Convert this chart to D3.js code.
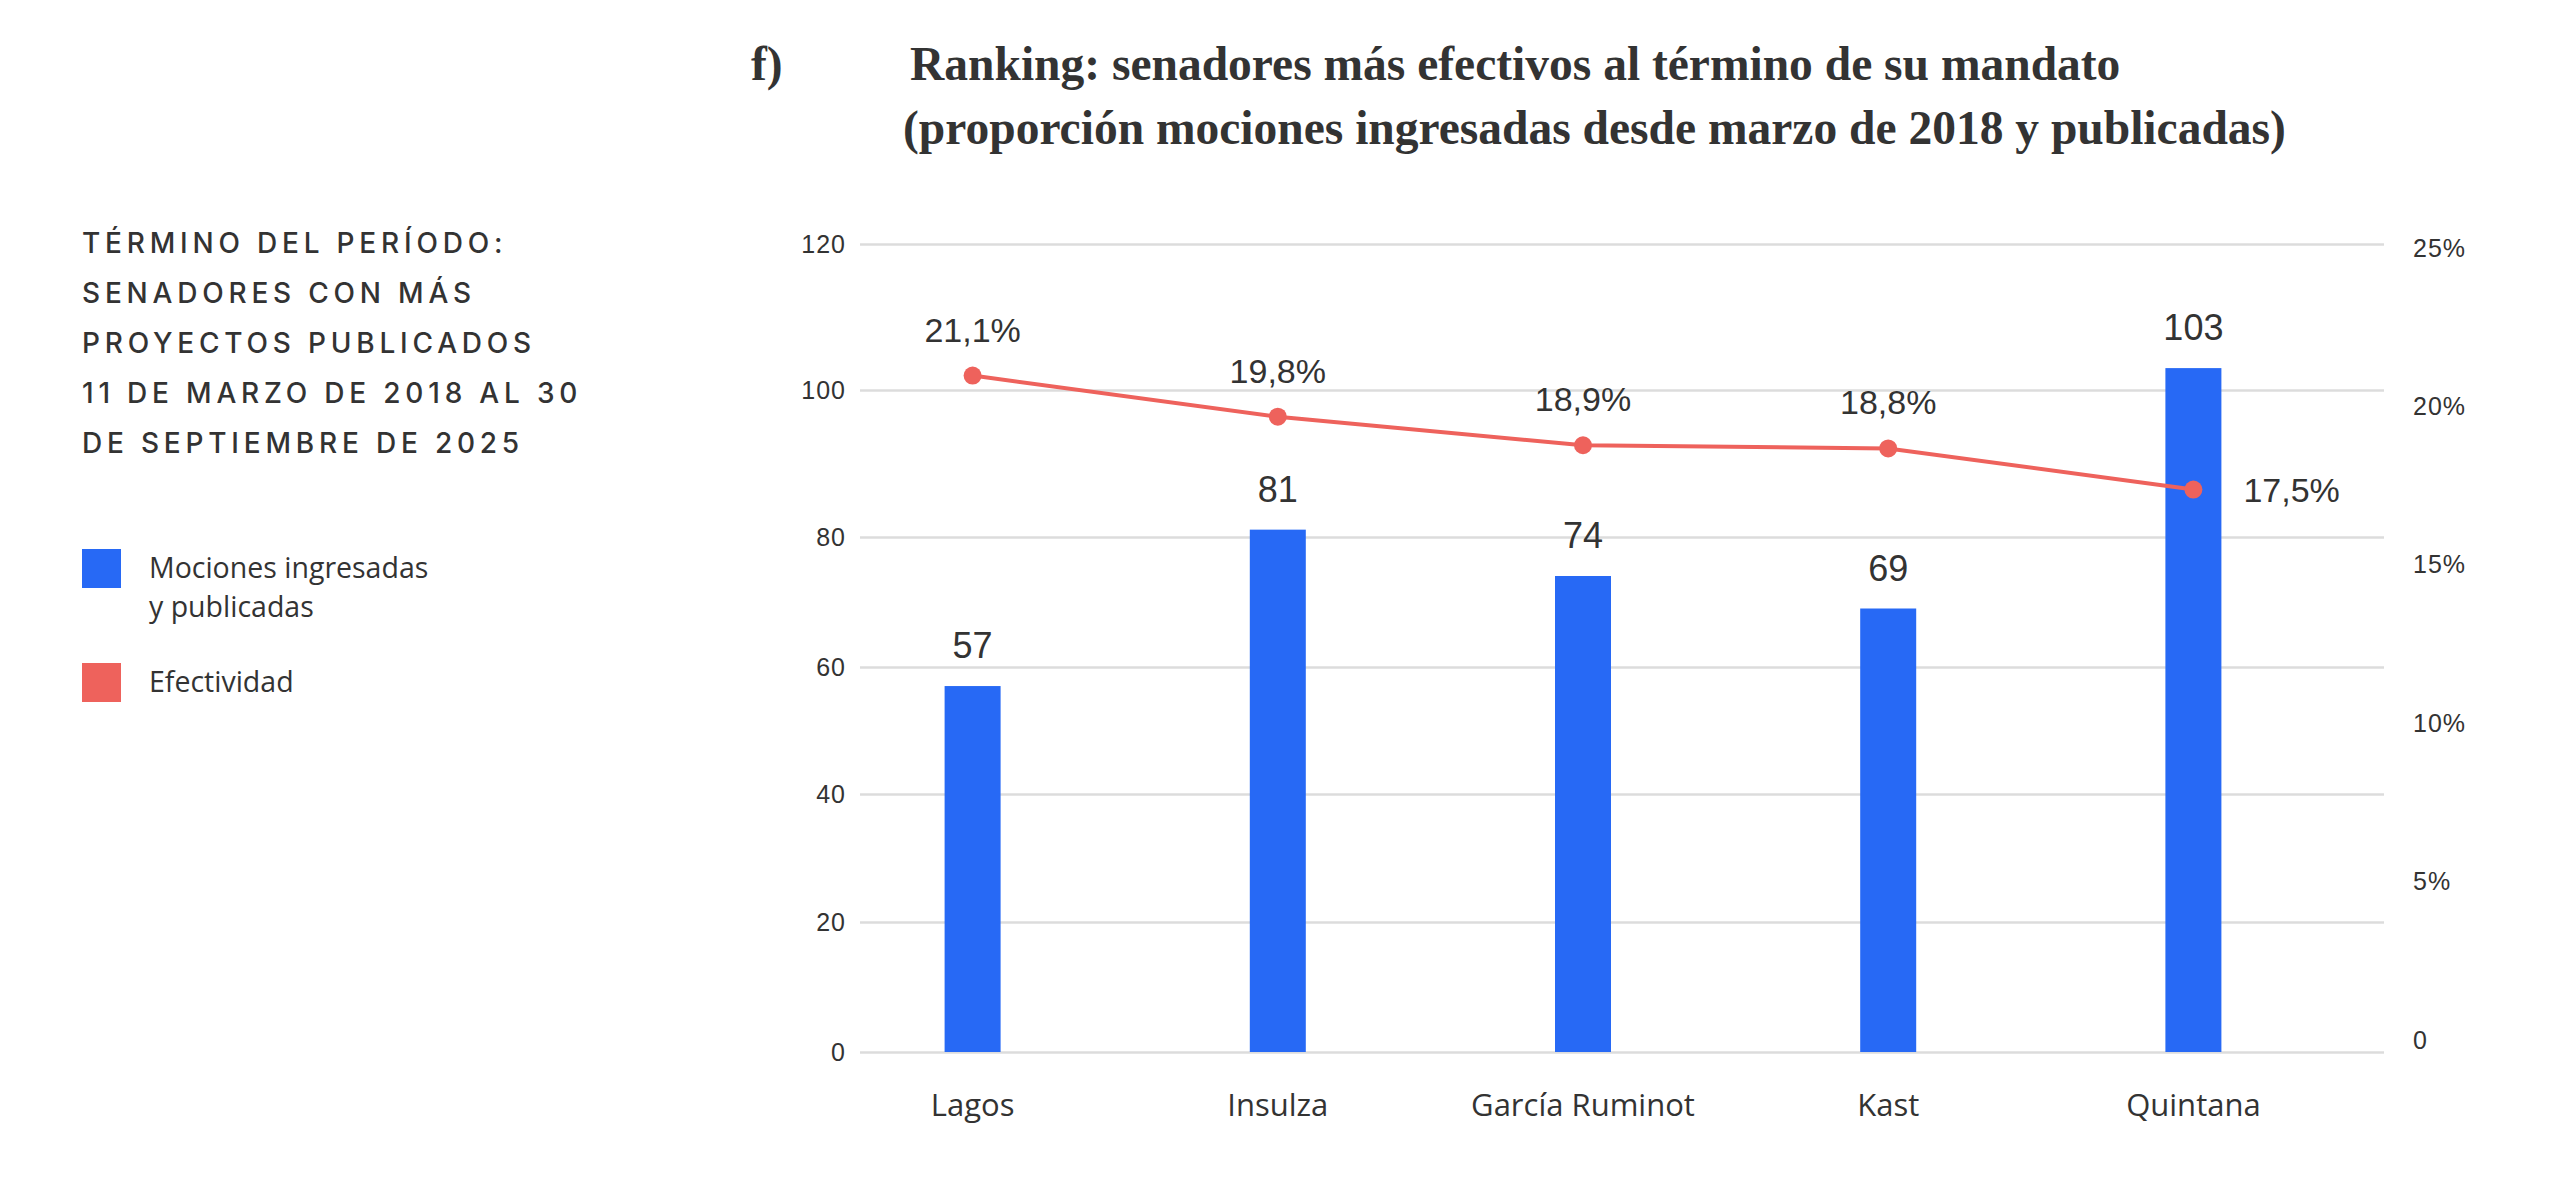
<!DOCTYPE html>
<html lang="es">
<head>
  <meta charset="UTF-8">
  <title>Ranking senadores</title>
  <script src="https://cdn.jsdelivr.net/npm/d3@7"></script>
  <style>
    body { margin: 0; background: #fff; }
    text { fill: #333; }
  </style>
</head>
<body>

  <svg id="svg" width="2560" height="1183"></svg>

  <script>
    // Data
    const senators = ["Lagos", "Insulza", "García Ruminot", "Kast", "Quintana"]
    const mociones = [57, 81, 74, 69, 103]
    const efectividad = [21.1, 19.8, 18.9, 18.8, 17.5]
    const leftTicks = [0, 20, 40, 60, 80, 100, 120]
    const rightTicks = [0, 5, 10, 15, 20, 25]

    const titleLines = [
      "Ranking: senadores más efectivos al término de su mandato",
      "(proporción mociones ingresadas desde marzo de 2018 y publicadas)"
    ]
    const noteLines = [
      "TÉRMINO DEL PERÍODO:",
      "SENADORES CON MÁS",
      "PROYECTOS PUBLICADOS",
      "11 DE MARZO DE 2018 AL 30",
      "DE SEPTIEMBRE DE 2025"
    ]

    const blue = "#2769f5"
    const red = "#ee625c"

    const es = d3.formatLocale({ decimal: ",", thousands: ".", grouping: [3], currency: ["$", ""] })
    const pct = es.format(".1f")

    const svg = d3.select("#svg")

    // plot area
    const plot = { left: 860, right: 2384, top: 244, bottom: 1052 }

    const x = d3.scaleBand()
      .domain(senators)
      .range([820, 2346])

    // the original left axis is not evenly spaced: gridlines sit at these heights
    const gridY = [1052, 922, 794, 667, 537, 390, 244]
    const y = d3.scaleLinear()
      .domain(leftTicks)
      .range(gridY)

    const yR = d3.scaleLinear()
      .domain([0, 25])
      .range([1044, 252])

    // left axis with gridlines
    const gLeft = svg.append("g")
      .attr("transform", `translate(${plot.left}, 0)`)
      .call(d3.axisLeft(y).tickValues(leftTicks).tickSize(-(plot.right - plot.left)).tickPadding(14))
    gLeft.select(".domain").remove()
    gLeft.selectAll(".tick line").attr("stroke", "#dcdcdc").attr("stroke-width", 2.5)
    gLeft.selectAll(".tick text")
      .attr("font-family", "'Liberation Sans', Arial, sans-serif")
      .attr("font-size", 25)
      .attr("fill", "#444")
      .style("letter-spacing", "1px")

    // right axis (percent)
    const gRight = svg.append("g")
      .attr("transform", `translate(${plot.right}, 0)`)
      .call(d3.axisRight(yR).tickValues(rightTicks).tickSize(0).tickPadding(29)
        .tickFormat(d => d === 0 ? "0" : d + "%"))
    gRight.select(".domain").remove()
    gRight.selectAll(".tick text")
      .attr("font-family", "'Liberation Sans', Arial, sans-serif")
      .attr("font-size", 25)
      .attr("fill", "#444")
      .attr("dy", "0.16em")
      .style("letter-spacing", "1px")

    // bottom axis labels
    const gBottom = svg.append("g")
      .attr("transform", `translate(0, ${plot.bottom})`)
      .call(d3.axisBottom(x).tickSize(0).tickPadding(42))
    gBottom.select(".domain").remove()
    gBottom.selectAll(".tick text")
      .attr("font-family", "'Open Sans', sans-serif")
      .attr("font-size", 31)
      .attr("fill", "#333")

    // bars
    const barW = 56
    svg.append("g")
      .selectAll("rect")
      .data(mociones)
      .join("rect")
      .attr("x", (d, i) => x(senators[i]) + x.bandwidth() / 2 - barW / 2)
      .attr("y", d => y(d))
      .attr("width", barW)
      .attr("height", d => plot.bottom - y(d))
      .attr("fill", blue)

    // bar labels
    svg.append("g")
      .selectAll("text")
      .data(mociones)
      .join("text")
      .attr("x", (d, i) => x(senators[i]) + x.bandwidth() / 2)
      .attr("y", d => y(d) - 28)
      .attr("text-anchor", "middle")
      .attr("font-family", "'Liberation Sans', Arial, sans-serif")
      .attr("font-size", 36)
      .text(d => d)

    // line
    const line = d3.line()
      .x((d, i) => x(senators[i]) + x.bandwidth() / 2)
      .y(d => yR(d))

    svg.append("path")
      .datum(efectividad)
      .attr("d", line)
      .attr("fill", "none")
      .attr("stroke", red)
      .attr("stroke-width", 4)

    svg.append("g")
      .selectAll("circle")
      .data(efectividad)
      .join("circle")
      .attr("cx", (d, i) => x(senators[i]) + x.bandwidth() / 2)
      .attr("cy", d => yR(d))
      .attr("r", 9)
      .attr("fill", red)

    // percent labels (last one goes to the right of the point)
    const last = efectividad.length - 1
    svg.append("g")
      .selectAll("text")
      .data(efectividad)
      .join("text")
      .attr("x", (d, i) => x(senators[i]) + x.bandwidth() / 2 + (i === last ? 50 : 0))
      .attr("y", (d, i) => i === last ? yR(d) + 12 : yR(d) - 34)
      .attr("text-anchor", (d, i) => i === last ? "start" : "middle")
      .attr("font-family", "'Liberation Sans', Arial, sans-serif")
      .attr("font-size", 34)
      .text(d => pct(d) + "%")

    // title
    svg.append("text")
      .attr("x", 751).attr("y", 80)
      .attr("font-family", "'Liberation Serif', serif")
      .attr("font-weight", "bold")
      .attr("font-size", 47.5)
      .text("f)")
    svg.append("g")
      .selectAll("text")
      .data(titleLines)
      .join("text")
      .attr("x", (d, i) => i === 0 ? 910 : 903)
      .attr("y", (d, i) => 80 + i * 64)
      .attr("font-family", "'Liberation Serif', serif")
      .attr("font-weight", "bold")
      .attr("font-size", 47.5)
      .text(d => d)

    // side note
    svg.append("g")
      .selectAll("text")
      .data(noteLines)
      .join("text")
      .attr("x", 82)
      .attr("y", (d, i) => 253 + i * 50)
      .attr("font-family", "Inter, sans-serif")
      .attr("font-size", 28)
      .attr("font-weight", 500)
      .attr("fill", "#2a2a2a")
      .style("letter-spacing", "4.8px")
      .text(d => d)

    // legend
    const legend = [
      { color: blue, lines: ["Mociones ingresadas", "y publicadas"], y: 549 },
      { color: red, lines: ["Efectividad"], y: 663 }
    ]
    const lg = svg.append("g").selectAll("g").data(legend).join("g")
    lg.append("rect")
      .attr("x", 82).attr("y", d => d.y)
      .attr("width", 39).attr("height", 39)
      .attr("fill", d => d.color)
    lg.each(function (d) {
      d3.select(this).selectAll("text")
        .data(d.lines)
        .join("text")
        .attr("x", 149)
        .attr("y", (t, i) => d.y + 29 + i * 39)
        .attr("font-family", "'Open Sans', sans-serif")
        .attr("font-size", 28.5)
        .text(t => t)
    })
  </script>
</body>
</html>
